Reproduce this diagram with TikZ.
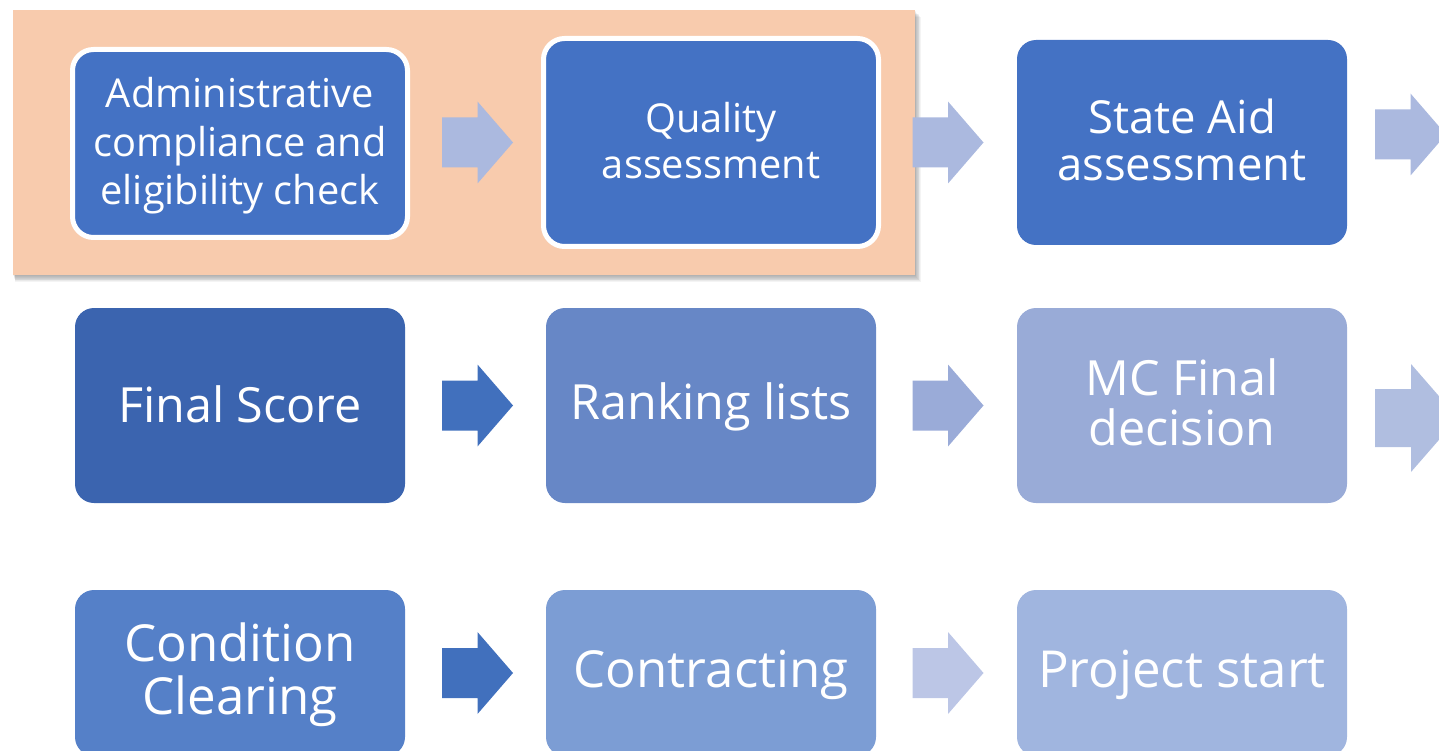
\documentclass[tikz,border=0pt]{standalone}
\usepackage{fontspec}
\setmainfont{Open Sans}
\definecolor{peach}{HTML}{F8CBAD}
\definecolor{bmain}{HTML}{4472C4}
\definecolor{bfinal}{HTML}{3B64AF}
\definecolor{brank}{HTML}{6787C6}
\definecolor{bmc}{HTML}{99ABD7}
\definecolor{bcond}{HTML}{5580C8}
\definecolor{bcontr}{HTML}{7C9DD4}
\definecolor{bproj}{HTML}{A0B5DF}
\definecolor{alav}{HTML}{ABB9DF}
\definecolor{adark}{HTML}{4170BD}
\definecolor{amid}{HTML}{9AABD8}
\definecolor{alight}{HTML}{B0BEE0}
\definecolor{apale}{HTML}{BCC6E6}
\tikzset{
  box/.style={rounded corners=19pt, inner sep=0pt, text=white, align=center,
              minimum width=330pt, minimum height=195pt},
  hbox/.style={box, draw=white, line width=5pt, rounded corners=21pt, minimum width=335pt},
  smalltxt/.style={font=\fontsize{39.8}{48.5}\selectfont},
  quatxt/.style={font=\fontsize{39.8}{46}\selectfont},
  bigtxt/.style={font=\fontsize{45.5}{47}\selectfont},
  rowtwotxt/.style={font=\fontsize{48.5}{50}\selectfont},
  rowthreetxt/.style={font=\fontsize{51}{53}\selectfont},
  blockarrow/.pic={\fill[#1] (0,-25)--(35.5,-25)--(35.5,-41)--(71,0)--(35.5,41)--(35.5,25)--(0,25)--cycle;},
  bigarrow/.pic={\fill[#1] (0,-29)--(36,-29)--(36,-54)--(83,0)--(36,54)--(36,29)--(0,29)--cycle;}
}
\begin{document}
\begin{tikzpicture}[x=1pt,y=-1pt]
\useasboundingbox (0,0) rectangle (1439,751);
\clip (0,0) rectangle (1439,751);
% shadow of highlight panel
\foreach \i in {1,...,8}{
  \fill[black, opacity=0.045] (13+0.3*\i,10+0.9*\i) rectangle (915+0.7*\i,275+0.9*\i);
}
\node[fill=peach, inner sep=0pt, minimum width=902pt, minimum height=265pt] (hl) at (464,142.5) {};
% row 1
\node[hbox, fill=bmain, minimum height=188pt] (adm) at (240,143.5) {};
\node[smalltxt, text=white, align=center, inner sep=0pt] (admt) at ([yshift=-2.5pt]adm.center) {Administrative\\compliance and\\eligibility check};
\node[hbox, fill=bmain, minimum height=208pt] (qual) at (711,142.5) {};
\node[quatxt, text=white, align=center, inner sep=0pt] (qualt) at ([yshift=1.5pt]qual.center) {Quality\\assessment};
\node[box, fill=bmain, minimum height=205pt] (sa) at (1182,142.5) {};
\node[bigtxt, text=white, align=center, inner sep=0pt] (sat) at ([yshift=2.5pt]sa.center) {State Aid\\assessment};
% row 2
\node[box, fill=bfinal] (fs) at (240,405.5) {};
\node[rowtwotxt, text=white, inner sep=0pt] (fst) at ([yshift=1pt]fs.center) {Final Score};
\node[box, fill=brank] (rl) at (711,405.5) {};
\node[rowtwotxt, text=white, inner sep=0pt] (rlt) at ([yshift=-1pt]rl.center) {Ranking lists};
\node[box, fill=bmc] (mc) at (1182,405.5) {};
\node[rowtwotxt, text=white, align=center, inner sep=0pt] (mct) at ([yshift=3pt]mc.center) {MC Final\\decision};
% row 3
\node[box, fill=bcond, minimum height=166pt] (cc) at (240,673) {};
\node[rowthreetxt, text=white, align=center, inner sep=0pt] (cct) at ([yshift=-1.5pt]cc.center) {Condition\\Clearing};
\node[box, fill=bcontr, minimum height=166pt] (ct) at (711,673) {};
\node[rowthreetxt, text=white, inner sep=0pt] (ctt) at ([yshift=-2pt]ct.center) {Contracting};
\node[box, fill=bproj, minimum height=166pt] (ps) at (1182,673) {};
\node[rowthreetxt, text=white, inner sep=0pt] (pst) at ([yshift=-2pt]ps.center) {Project start};
% arrows
\pic (a1) at (442,142.5) {blockarrow=alav};
\pic (a2) at (912.5,142.5) {blockarrow=alav};
\pic (a3) at (1375,134.5) {blockarrow=alav};
\pic (a4) at (442,405.5) {blockarrow=adark};
\pic (a5) at (912.5,405.5) {blockarrow=amid};
\pic (a6) at (1375,418) {bigarrow=alight};
\pic (a7) at (442,673) {blockarrow=adark};
\pic (a8) at (912.5,673) {blockarrow=apale};
\end{tikzpicture}
\end{document}
